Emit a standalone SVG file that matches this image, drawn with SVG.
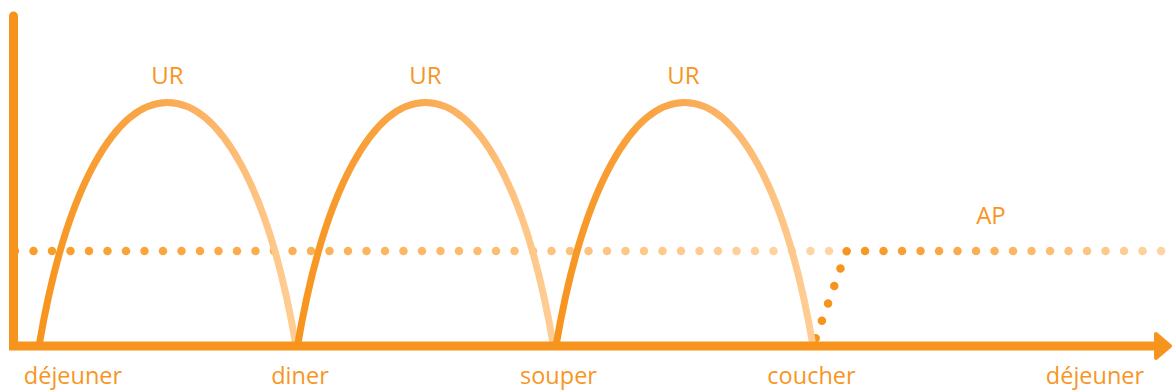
<svg xmlns="http://www.w3.org/2000/svg" width="1172" height="391" viewBox="0 0 1172 391">
  <style>
    .lbl { font-family: "Open Sans", "Liberation Sans", sans-serif; fill: #F7961F; text-anchor: middle; }
    .big { font-size: 24px; }
    .small { font-size: 23.5px; }
    .axis { stroke: #F7941D; stroke-width: 9; fill: none; stroke-linecap: round; }
    .arc { fill: none; stroke: url(#arcGrad); stroke-width: 7; }
    .dots { fill: none; stroke-width: 8.5; stroke-linecap: round; stroke-dasharray: 0 18.5; }
  </style>
  <defs>
    <linearGradient id="arcGrad" x1="0" y1="0" x2="1" y2="0">
      <stop offset="0" stop-color="#F7941D"/>
      <stop offset="0.5" stop-color="#FAAA52"/>
      <stop offset="1" stop-color="#FFCE96"/>
    </linearGradient>
    <linearGradient id="apGrad1" gradientUnits="userSpaceOnUse" x1="15" y1="0" x2="830" y2="0">
      <stop offset="0" stop-color="#F89C27"/>
      <stop offset="1" stop-color="#FFD5A6"/>
    </linearGradient>
    <linearGradient id="apGrad2" gradientUnits="userSpaceOnUse" x1="846" y1="0" x2="1165" y2="0">
      <stop offset="0" stop-color="#F7941D"/>
      <stop offset="1" stop-color="#FFD4A4"/>
    </linearGradient>
  </defs>

  <g id="ap-level">
    <path class="dots" stroke="url(#apGrad1)" d="M15,251 H831"/>
    <path class="dots" stroke="url(#apGrad2)" d="M815.7,338.3 L846.7,251 H1163"/>
  </g>

  <g id="arcs">
    <path id="arc1" class="arc" d="M39,346 C94,21.3 241,21.3 296,346"/>
    <path id="arc2" class="arc" d="M297.5,346 C352.5,21.3 498.5,21.3 553.5,346"/>
    <path id="arc3" class="arc" d="M556,346 C611,21.3 758,21.3 813,346"/>
  </g>

  <g id="connectors">
    <path class="axis" d="M13.5,16 V346 H1156"/>
    <polygon points="1156,334 1170,346 1156,358" fill="#F7941D" stroke="#F7941D" stroke-width="4" stroke-linejoin="round"/>
  </g>

  <g id="labels">
    <text class="lbl big" x="167.5" y="84">UR</text>
    <text class="lbl big" x="425.5" y="84">UR</text>
    <text class="lbl big" x="683.5" y="84">UR</text>
    <text class="lbl big" x="991" y="224">AP</text>
    <text class="lbl small" x="73" y="384">déjeuner</text>
    <text class="lbl small" x="300" y="384">diner</text>
    <text class="lbl small" x="558.5" y="384">souper</text>
    <text class="lbl small" x="811.5" y="384">coucher</text>
    <text class="lbl small" x="1095" y="384">déjeuner</text>
  </g>
</svg>
